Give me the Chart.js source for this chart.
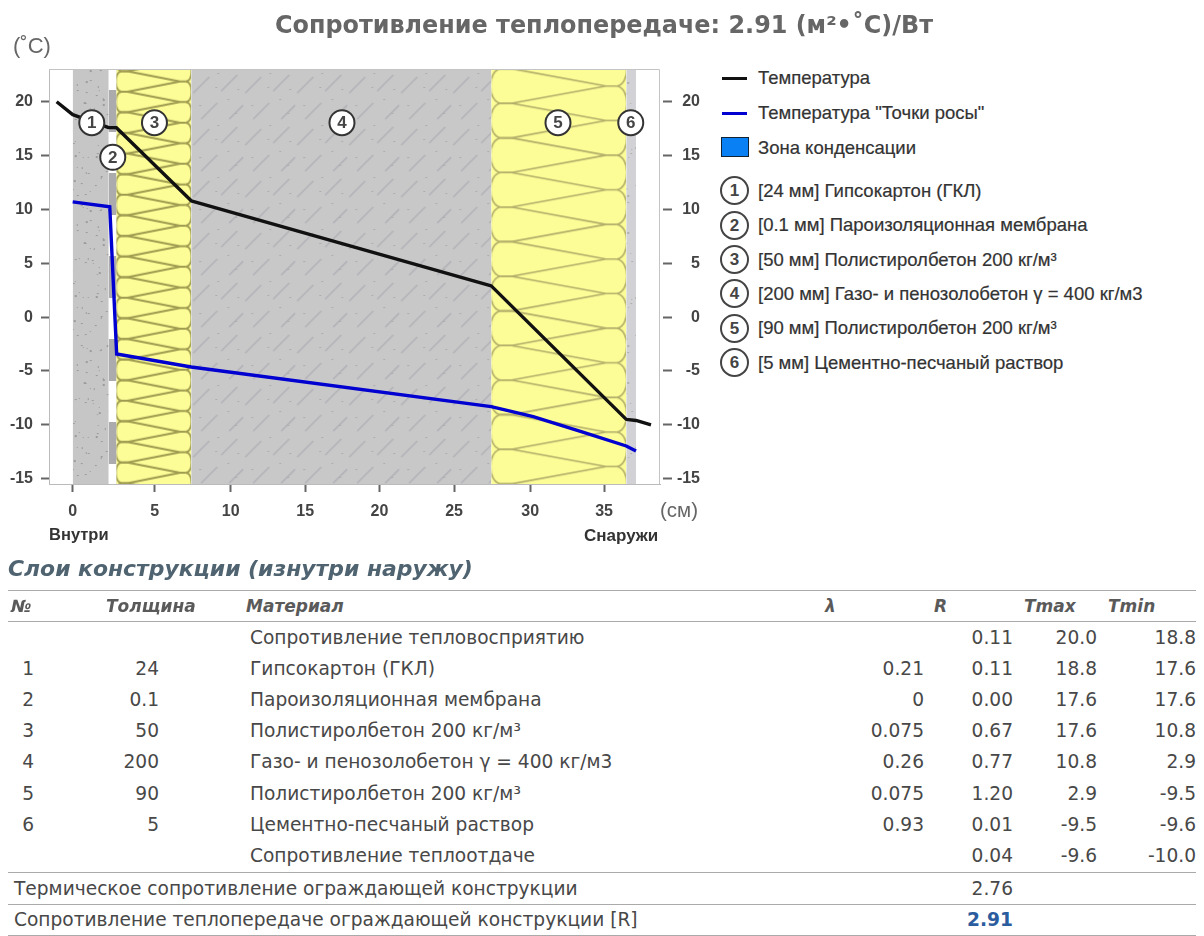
<!DOCTYPE html>
<html>
<head>
<meta charset="utf-8">
<script src="https://cdn.jsdelivr.net/npm/chart.js@4/dist/chart.umd.min.js"></script>
<style>
  html, body { margin: 0; background: #fff; }
  body { position: relative; width: 1204px; height: 936px; overflow: hidden; }
  #wall { position: absolute; left: 0; top: 0; }
  .t { position: absolute; white-space: nowrap; transform: translateY(-50%); }
  .sans { font-family: "DejaVu Sans", sans-serif; font-size: 18.6px; color: #484848; }
  .head { font-family: "DejaVu Sans", sans-serif; font-size: 17px; font-weight: bold; font-style: italic; color: #5a5a5a; }
  .leg { font-family: "Liberation Sans", sans-serif; font-size: 18.5px; color: #333; -webkit-text-stroke: 0.2px #333; }
  .hr { position: absolute; left: 8px; width: 1188px; height: 1px; background: #aaa; }
  .ring { position: absolute; width: 25px; height: 25px; border: 2px solid #444; border-radius: 50%; text-align: center;
          font: bold 17px/25px "Liberation Sans", sans-serif; color: #444; }
  .swatch { position: absolute; }
</style>
</head>
<body>
<canvas id="wall" width="700" height="560"></canvas>
<script>
// values. x is the drawn wall coordinate (cm), the membrane gets 0.5 cm of width
const layerEdges = [0, 2.4, 2.9, 7.9, 27.9, 36.9, 37.55];
const tempX = [-1.07, 0, 2.4, 2.9, 7.9, 27.9, 36.9, 37.55, 38.55];
const tempY = [20.0, 18.8, 17.6, 17.6, 10.8, 2.9, -9.5, -9.6, -10.0];
const dewX = [0, 2.47, 2.93, 7.9, 27.9, 30.7, 33.9, 36.9, 37.55];
const dewY = [10.7, 10.25, -3.43, -4.63, -8.32, -9.25, -10.64, -11.97, -12.43];
const markerNums = ['1', '2', '3', '4', '5', '6'];
const markerX = [1.27, 2.67, 5.45, 17.95, 32.35, 37.2];
const markerY = [18.05, 14.84, 18.05, 18.05, 18.05, 18.05];
const yTicks = [20, 15, 10, 5, 0, -5, -10, -15];
const xTickPos = [0, 5.47, 10.53, 15.5, 20.45, 25.42, 30.5, 35.42];
const xTickLabels = ['0', '5', '10', '15', '20', '25', '30', '35'];

const legendLayers = [
  '[24 мм] Гипсокартон (ГКЛ)',
  '[0.1 мм] Пароизоляционная мембрана',
  '[50 мм] Полистиролбетон 200 кг/м³',
  '[200 мм] Газо- и пенозолобетон γ = 400 кг/м3',
  '[90 мм] Полистиролбетон 200 кг/м³',
  '[5 мм] Цементно-песчаный раствор'
];

const rowNo = ['', '1', '2', '3', '4', '5', '6', ''];
const rowThick = ['', '24', '0.1', '50', '200', '90', '5', ''];
const rowMat = ['Сопротивление тепловосприятию', 'Гипсокартон (ГКЛ)', 'Пароизоляционная мембрана', 'Полистиролбетон 200 кг/м³',
  'Газо- и пенозолобетон γ = 400 кг/м3', 'Полистиролбетон 200 кг/м³', 'Цементно-песчаный раствор', 'Сопротивление теплоотдаче'];
const rowLambda = ['', '0.21', '0', '0.075', '0.26', '0.075', '0.93', ''];
const rowR = ['0.11', '0.11', '0.00', '0.67', '0.77', '1.20', '0.01', '0.04'];
const rowTmax = ['20.0', '18.8', '17.6', '17.6', '10.8', '2.9', '-9.5', '-9.6'];
const rowTmin = ['18.8', '17.6', '17.6', '10.8', '2.9', '-9.5', '-9.6', '-10.0'];

const yMin = -15.5, yMax = 23.04;
const armFont = { family: '"Liberation Sans", sans-serif', size: 16, weight: 'bold' };

function tile(w, h, draw) {
  const c = document.createElement('canvas');
  c.width = w; c.height = h;
  draw(c.getContext('2d'));
  return c;
}

// wool insulation symbol, left pinch of the lobes sits on y = 0
function woolTile(w, P, lw, col) {
  const n = 5, a = 0.07 * w, s = 0.08 * w;
  return tile(w, Math.round(P * n), g => {
    g.fillStyle = '#fdfd98';
    g.fillRect(0, 0, w, P * n);
    g.strokeStyle = col;
    g.lineWidth = lw;
    for (let k = -1; k <= n; k++) {
      g.beginPath();
      g.moveTo(a, k * P);
      g.bezierCurveTo(-0.03 * w, k * P + 0.05 * P, -0.03 * w, (k + 1) * P - 0.05 * P, a, (k + 1) * P);
      g.stroke();
      g.beginPath();
      g.moveTo(w - a, (k + 0.5) * P);
      g.bezierCurveTo(1.03 * w, (k + 0.55) * P, 1.03 * w, (k + 1.45) * P, w - a, (k + 1.5) * P);
      g.stroke();
      g.beginPath();
      g.moveTo(a, k * P);
      g.lineTo(a + s, k * P);
      g.lineTo(w - a - s, (k + 0.5) * P);
      g.lineTo(w - a, (k + 0.5) * P);
      g.lineTo(w - a - s, (k + 0.5) * P);
      g.lineTo(a + s, (k + 1) * P);
      g.lineTo(a, (k + 1) * P);
      g.stroke();
    }
  });
}

// plaster and mortar texture, low contrast flecks
function speckTile(w, h, bg, col, count) {
  return tile(w, h, g => {
    g.fillStyle = bg;
    g.fillRect(0, 0, w, h);
    g.fillStyle = col;
    for (let i = 1; i <= count; i++) {
      const x = (i * 23 + (i * i) % 7) % w, y = (i * 83 + (i * i * i) % 31) % h;
      g.fillRect(x, y, 1 + i % 2, 1 + (i % 3 === 0 ? 1 : 0));
    }
  });
}

function concreteTile() {
  return tile(52, 52, g => {
    g.fillStyle = '#c8c8c8';
    g.fillRect(0, 0, 52, 52);
    g.strokeStyle = '#b2b2b8';
    g.lineWidth = 1.6;
    [[2, 24, 18, 8], [30, 22, 46, 6], [10, 50, 26, 34], [38, 50, 52, 36]].forEach(d => {
      g.beginPath(); g.moveTo(d[0], d[1]); g.lineTo(d[2], d[3]); g.stroke();
    });
    g.fillStyle = '#adadad';
    [[8, 36], [24, 18], [36, 30], [46, 20], [26, 4], [44, 44]].forEach(p => g.fillRect(p[0], p[1], 2, 1));
  });
}

function membraneTile() {
  return tile(8, 83, g => {
    g.fillStyle = '#fff';
    g.fillRect(0, 0, 8, 83);
    g.fillStyle = '#ababad';
    g.fillRect(0, 0, 8, 42);
  });
}

const bandNames = ['plaster', 'membrane', 'wool3', 'concrete', 'wool5', 'mortar'];
const bandData = bandNames.map((n, i) => ({
  label: n,
  data: [{ x: layerEdges[i], y: yMax }, { x: layerEdges[i + 1], y: yMax }],
  borderWidth: 0, pointRadius: 0, fill: { value: yMin }, backgroundColor: '#c8c8c8'
}));

const bandPatterns = {
  id: 'bandPatterns',
  afterLayout(chart) {
    const g = chart.ctx, sx = chart.scales.x;
    const make = (idx, canvas, dy) => {
      const p = g.createPattern(canvas, 'repeat');
      p.setTransform(new DOMMatrix().translate(sx.getPixelForValue(layerEdges[idx]), dy));
      chart.data.datasets[idx + 3].backgroundColor = p;
    };
    make(0, speckTile(37, 140, '#c6c6c6', '#9c9c9c', 60), 69);
    make(1, membraneTile(), 90);
    make(2, woolTile(75, 20.6, 2, '#9f9b50'), 400.7);
    make(3, concreteTile(), 69);
    make(4, woolTile(135, 34.6, 1.6, '#b2ae6a'), 103.3);
    make(5, speckTile(10, 150, '#d2d2d6', '#b0b0b0', 12), 69);
  }
};

const chartFrame = {
  id: 'chartFrame',
  afterDatasetsDraw(chart) {
    const a = chart.chartArea, g = chart.ctx;
    g.save();
    g.strokeStyle = '#c4c4c4';
    g.lineWidth = 1;
    g.beginPath();
    g.moveTo(a.left, a.top + 0.5);
    g.lineTo(a.right - 0.5, a.top + 0.5);
    g.lineTo(a.right - 0.5, a.bottom);
    g.stroke();
    // numerals inside the layer markers
    const meta = chart.getDatasetMeta(0);
    g.fillStyle = '#444';
    g.font = 'bold 17px "Liberation Sans", sans-serif';
    g.textAlign = 'center';
    g.textBaseline = 'middle';
    meta.data.forEach((pt, i) => g.fillText(markerNums[i], pt.x, pt.y + 1));
    g.restore();
  }
};

const keepTicks = vals => axis => { axis.ticks = vals.map(v => ({ value: v })); };
const xy = (xs, ys) => xs.map((x, i) => ({ x: x, y: ys[i] }));

new Chart(document.getElementById('wall'), {
  type: 'line',
  data: {
    datasets: [
      { label: 'Слои', data: xy(markerX, markerY), showLine: false, pointRadius: 12.5, pointBorderWidth: 2,
        pointBackgroundColor: '#fff', pointBorderColor: '#333' },
      { label: 'Температура', data: xy(tempX, tempY), borderColor: '#111', borderWidth: 3.4, pointRadius: 0, borderJoinStyle: 'round', fill: false },
      { label: 'Температура "Точки росы"', data: xy(dewX, dewY), borderColor: '#0000d0', borderWidth: 3.4, pointRadius: 0, fill: false }
    ].concat(bandData)
  },
  options: {
    responsive: false,
    animation: false,
    events: [],
    layout: { padding: { top: 69, left: 0, right: 0, bottom: 0 } },
    plugins: { legend: { display: false }, tooltip: { enabled: false } },
    scales: {
      x: {
        type: 'linear', min: -1.58, max: 39.15,
        afterBuildTicks: keepTicks(xTickPos),
        afterFit(a) { a.height = 76; },
        grid: { drawOnChartArea: false, tickLength: 8, color: '#666', tickWidth: 2 },
        border: { color: '#bbb', width: 1 },
        ticks: {
          autoSkip: false, maxRotation: 0, padding: 10, color: '#444', font: armFont,
          callback: v => xTickLabels[xTickPos.indexOf(v)]
        }
      },
      y: {
        position: 'left', min: yMin, max: yMax,
        afterBuildTicks: keepTicks(yTicks),
        afterFit(a) { a.width = 49; },
        grid: { drawOnChartArea: false, tickLength: 8, color: '#666', tickWidth: 2 },
        border: { color: '#bbb', width: 1 },
        ticks: { padding: 8, color: '#444', font: armFont }
      },
      y2: {
        position: 'right', min: yMin, max: yMax,
        afterBuildTicks: keepTicks(yTicks),
        afterFit(a) { a.width = 40; },
        grid: { drawOnChartArea: false, tickLength: 12, color: '#666', tickWidth: 2, tickBorderDash: [0, 3, 9, 50] },
        border: { display: false },
        ticks: { padding: 8, crossAlign: 'far', color: '#444', font: armFont }
      }
    }
  },
  plugins: [bandPatterns, chartFrame]
});

// text around the chart
function put(text, x, y, align, cls, extra) {
  const d = document.createElement('div');
  d.className = 't ' + cls;
  d.textContent = text;
  d.style.top = y + 'px';
  if (align === 'r') d.style.right = (1204 - x) + 'px';
  else if (align === 'c') { d.style.left = x + 'px'; d.style.transform = 'translate(-50%,-50%)'; }
  else d.style.left = x + 'px';
  if (extra) d.style.cssText += extra;
  document.body.appendChild(d);
}

put('Сопротивление теплопередаче: 2.91 (м²•˚C)/Вт', 604, 25, 'c', 'sans', 'font-size:23.9px;font-weight:bold;color:#666;');
put('(˚C)', 13, 46, 'l', 'leg', 'font-size:22px;color:#666;-webkit-text-stroke:0;');
put('(см)', 660, 510, 'l', 'leg', 'font-size:20.5px;color:#666;-webkit-text-stroke:0;');
put('Внутри', 49, 534, 'l', 'leg', 'font-size:16.5px;font-weight:bold;-webkit-text-stroke:0;');
put('Снаружи', 584, 536, 'l', 'leg', 'font-size:17px;font-weight:bold;-webkit-text-stroke:0;');

// legend
const legLine = (y, col) => {
  const d = document.createElement('div');
  d.className = 'swatch';
  d.style.cssText = 'left:722px;width:25px;height:3px;top:' + (y - 1.5) + 'px;background:' + col;
  document.body.appendChild(d);
};
legLine(78, '#111');
legLine(113, '#0000d0');
const sw = document.createElement('div');
sw.className = 'swatch';
sw.style.cssText = 'left:721px;top:137px;width:26px;height:18px;background:#0a80f5;border:1px solid #123;';
document.body.appendChild(sw);
put('Температура', 758, 78, 'l', 'leg');
put('Температура "Точки росы"', 758, 113, 'l', 'leg');
put('Зона конденсации', 758, 148, 'l', 'leg');
legendLayers.forEach((s, i) => {
  const y = 190.7 + i * 34.4;
  const r = document.createElement('div');
  r.className = 'ring';
  r.textContent = i + 1;
  r.style.left = '720px';
  r.style.top = (y - 14.5) + 'px';
  document.body.appendChild(r);
  put(s, 758, y, 'l', 'leg');
});

// table
put('Слои конструкции (изнутри наружу)', 8, 568, 'l', 'head', 'font-size:21.9px;color:#4f6470;');
[590, 621, 872, 904, 935].forEach(y => {
  const h = document.createElement('div');
  h.className = 'hr';
  h.style.top = y + 'px';
  document.body.appendChild(h);
});
put('№', 11, 606, 'l', 'head');
put('Толщина', 106, 606, 'l', 'head');
put('Материал', 246, 606, 'l', 'head');
put('λ', 825, 606, 'l', 'head');
put('R', 934, 606, 'l', 'head');
put('Tmax', 1024, 606, 'l', 'head');
put('Tmin', 1108, 606, 'l', 'head');
rowMat.forEach((m, i) => {
  const y = 637 + i * 31.1;
  put(rowNo[i], 34, y, 'r', 'sans');
  put(rowThick[i], 159, y, 'r', 'sans');
  put(m, 250, y, 'l', 'sans');
  put(rowLambda[i], 924, y, 'r', 'sans');
  put(rowR[i], 1013, y, 'r', 'sans');
  put(rowTmax[i], 1097, y, 'r', 'sans');
  put(rowTmin[i], 1196, y, 'r', 'sans');
});
put('Термическое сопротивление ограждающей конструкции', 14, 888, 'l', 'sans');
put('2.76', 1013, 888, 'r', 'sans');
put('Сопротивление теплопередаче ограждающей конструкции [R]', 14, 919, 'l', 'sans');
put('2.91', 1013, 919, 'r', 'sans', 'font-weight:bold;color:#2b5c9e;');
</script>
</body>
</html>
